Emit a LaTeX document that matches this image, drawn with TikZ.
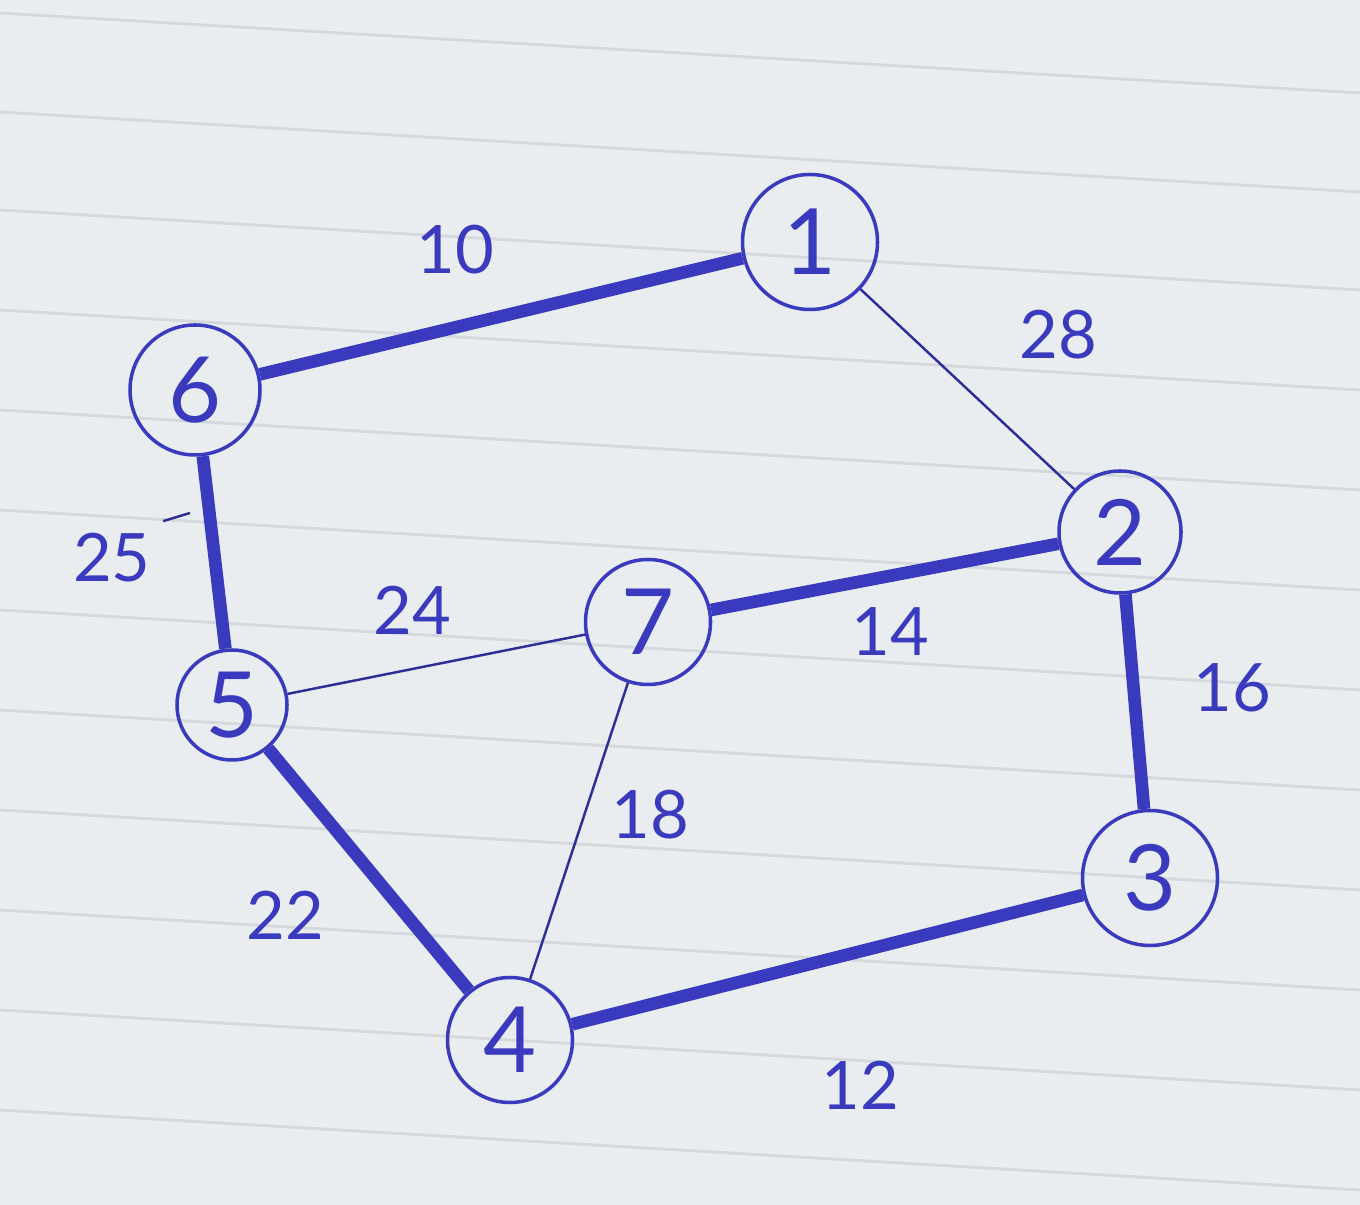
\documentclass[tikz,border=0pt]{standalone}
\usepackage{fontspec}
\setmainfont{Lato}
\usepackage{tikz}
\usetikzlibrary{positioning}
\definecolor{inkblue}{RGB}{58,58,190}
\definecolor{paper}{RGB}{233,237,239}
\definecolor{ruleline}{RGB}{212,216,220}
\tikzset{
    vertex/.style={circle, draw=inkblue, line width=1pt, inner sep=0pt,
                   font=\fontsize{26}{26}\selectfont, text=inkblue},
    mstedge/.style={inkblue, line width=3.6pt},
    plainedge/.style={inkblue!80!black, line width=0.7pt},
    weight/.style={font=\fontsize{19}{19}\selectfont, text=inkblue}
}

\begin{document}
\begin{tikzpicture}
    % ---- FOGLIO ----
    \fill[paper] (0,0) rectangle (13.6,-12.05);
    \useasboundingbox (0,0) rectangle (13.6,-12.05);
    \begin{scope}
        \clip (0,0) rectangle (13.6,-12.05);
        \foreach \y in {0.13,1.12,2.1,3.1,4.1,5.1,6.1,7.1,8.1,9.1,10.1,11.1,12.1}
            \draw[ruleline, line width=0.8pt] (0,-\y) -- (13.6,-\y-0.8);
    \end{scope}

    % ---- NODI ----
    \node[vertex, minimum size=1.35cm] (n1) at (8.10,-2.42) {1};
    \node[vertex, minimum size=1.22cm] (n2) at (11.20,-5.32) {2};
    \node[vertex, minimum size=1.35cm] (n3) at (11.50,-8.78) {3};
    \node[vertex, minimum size=1.25cm] (n4) at (5.10,-10.40) {4};
    \node[vertex, minimum size=1.10cm] (n5) at (2.32,-7.05) {5};
    \node[vertex, minimum size=1.30cm] (n6) at (1.95,-3.90) {6};
    \node[vertex, minimum size=1.25cm] (n7) at (6.48,-6.22) {7};

    % ---- ARCHI (albero minimo) ----
    \draw[mstedge] (n6) -- (n1);
    \draw[mstedge] (n6) -- (n5);
    \draw[mstedge] (n5) -- (n4);
    \draw[mstedge] (n4) -- (n3);
    \draw[mstedge] (n3) -- (n2);
    \draw[mstedge] (n7) -- (n2);
    % ---- ARCHI (scartati) ----
    \draw[plainedge] (n1) -- (n2);
    \draw[plainedge] (n5) -- (n7);
    \draw[plainedge] (n7) -- (n4);

    % ---- PESI ----
    \node[weight] (w10) at (4.55,-2.50) {10};
    \node[weight] (w28) at (10.58,-3.35) {28};
    \node[weight] (w25) at (1.12,-5.58) {25};
    \node[weight] (w24) at (4.12,-6.10) {24};
    \node[weight] (w14) at (8.90,-6.32) {14};
    \node[weight] (w16) at (12.32,-6.88) {16};
    \node[weight] (w18) at (6.50,-8.15) {18};
    \node[weight] (w22) at (2.85,-9.15) {22};
    \node[weight] (w12) at (8.60,-10.85) {12};
    \coordinate (t25) at (1.90,-5.13);
    \draw[plainedge] (w25.north east) -- (t25);
\end{tikzpicture}
\end{document}
